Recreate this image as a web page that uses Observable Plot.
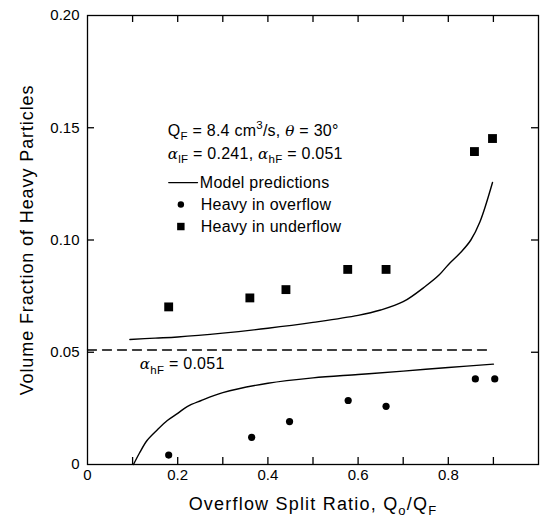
<!DOCTYPE html>
<html><head><meta charset="utf-8">
<script src="https://cdn.jsdelivr.net/npm/d3@7"></script>
<script src="https://cdn.jsdelivr.net/npm/@observablehq/plot@0.6"></script>
<style>body{margin:0;background:#fff}</style>
</head><body><div id="chart"></div>
<script>
// ---- data ----
const underX = [0.18, 0.36, 0.44, 0.577, 0.662, 0.858, 0.898];
const underY = [0.0702, 0.0742, 0.0779, 0.0869, 0.0869, 0.1394, 0.1452];
const overX = [0.18, 0.364, 0.448, 0.578, 0.662, 0.86, 0.903];
const overY = [0.0042, 0.0121, 0.0191, 0.0285, 0.0259, 0.0381, 0.0381];
const upperX = [0.094, 0.15, 0.2, 0.3, 0.4, 0.5, 0.6, 0.65, 0.7, 0.75, 0.78, 0.8, 0.83, 0.85, 0.87, 0.898];
const upperY = [0.0557, 0.0563, 0.0568, 0.0585, 0.0607, 0.0633, 0.0664, 0.0688, 0.0725, 0.0795, 0.0845, 0.089, 0.095, 0.1, 0.108, 0.1256];
const lowerX = [0.102, 0.115, 0.132, 0.155, 0.177, 0.2, 0.221, 0.251, 0.3, 0.4, 0.5, 0.6, 0.7, 0.8, 0.9];
const lowerY = [0, 0.005, 0.0107, 0.0155, 0.0196, 0.0228, 0.0258, 0.0284, 0.032, 0.0362, 0.0386, 0.0401, 0.0416, 0.0432, 0.0447];
const feedX = [0, 0.885];
const feedY = [0.051, 0.051];

const xLabelTicks = [0, 0.2, 0.4, 0.6, 0.8];
const xMinorTicks = [0.1, 0.2, 0.3, 0.4, 0.5, 0.6, 0.7, 0.8, 0.9];
const yLabelTicks = [0, 0.05, 0.1, 0.15, 0.2];
const yMinorTicks = [0.05, 0.1, 0.15];
const xTitle = "Overflow Split Ratio, Q_{o}/Q_{F}";
const yTitle = "Volume Fraction of Heavy Particles";

// annotations (text in data coords)
const noteText = ["Q_{F} = 8.4 cm^{3}/s, θ = 30°", "α_{lF} = 0.241, α_{hF} = 0.051", "Model predictions", "Heavy in overflow", "Heavy in underflow", "α_{hF} = 0.051"];
const noteX = [0.178, 0.178, 0.249, 0.251, 0.251, 0.116];
const noteY = [0.1488, 0.1385, 0.1256, 0.1158, 0.106, 0.0448];
const legLineX = [0.18, 0.244];
const legLineY = [0.1256, 0.1256];
const legDot = [{x: 0.207, y: 0.1158}];
const legSquare = [{x: 0.207, y: 0.106}];

// ---- build ----
const zip = (xs, ys) => xs.map((x, i) => ({x, y: ys[i]}));
const FONT = "'Liberation Sans', Arial, Helvetica, sans-serif";
const fmtX = d => d === 0 ? "0" : d.toFixed(1);
const fmtY = d => d === 0 ? "0" : d.toFixed(2);
const notes = noteText.map((t, i) => ({t, x: noteX[i], y: noteY[i]}));
const W = 540, H = 519, ML = 87, MR = 2, MT = 15, MB = 55;
const PW = W - ML - MR, PH = H - MT - MB, T = 7; // inward tick length
const xTicks = xMinorTicks.map(x => ({x}));
const yTicks = yMinorTicks.map(y => ({y}));
const tickStyle = {stroke: "black", strokeWidth: 1.3};

const chart = Plot.plot({
  width: W, height: H,
  marginLeft: ML, marginRight: MR, marginTop: MT, marginBottom: MB,
  x: {domain: [0, 1], label: null},
  y: {domain: [0, 0.2], label: null},
  style: {fontFamily: FONT, fontSize: "15px", color: "black", background: "white"},
  marks: [
    Plot.axisX(xLabelTicks, {anchor: "bottom", tickSize: 0, tickPadding: 5, tickFormat: fmtX, fontSize: 15,
      label: xTitle, labelAnchor: "center", labelOffset: 45, labelArrow: "none"}),
    Plot.axisY(yLabelTicks, {anchor: "left", tickSize: 0, tickPadding: 8, tickFormat: fmtY, fontSize: 15,
      label: yTitle, labelAnchor: "center", labelOffset: 67, labelArrow: "none"}),
    Plot.frame({stroke: "black", strokeWidth: 1.3}),
    // inward ticks on all four sides
    Plot.tickX(xTicks, {x: "x", insetTop: PH - T, ...tickStyle}),
    Plot.tickX(xTicks, {x: "x", insetBottom: PH - T, ...tickStyle}),
    Plot.tickY(yTicks, {y: "y", insetRight: PW - T, ...tickStyle}),
    Plot.tickY(yTicks, {y: "y", insetLeft: PW - T, ...tickStyle}),
    Plot.line(zip(feedX, feedY), {x: "x", y: "y", stroke: "black", strokeWidth: 1.3, strokeDasharray: "9,6"}),
    Plot.line(zip(upperX, upperY), {x: "x", y: "y", stroke: "black", strokeWidth: 1.4, curve: "catmull-rom"}),
    Plot.line(zip(lowerX, lowerY), {x: "x", y: "y", stroke: "black", strokeWidth: 1.4, curve: "catmull-rom"}),
    Plot.dot(zip(overX, overY), {x: "x", y: "y", r: 3.6, fill: "black", stroke: null}),
    Plot.dot(zip(underX, underY), {x: "x", y: "y", r: 5, symbol: "square", fill: "black", stroke: null}),
    Plot.line(zip(legLineX, legLineY), {x: "x", y: "y", stroke: "black", strokeWidth: 1.2}),
    Plot.dot(legDot, {x: "x", y: "y", r: 3.2, fill: "black", stroke: null}),
    Plot.dot(legSquare, {x: "x", y: "y", r: 4.2, symbol: "square", fill: "black", stroke: null}),
    Plot.text(notes, {x: "x", y: "y", text: "t", textAnchor: "start", lineAnchor: "middle", fontSize: 16, fill: "black"})
  ]
});
document.getElementById("chart").appendChild(chart);

// ---- rich text (sub/superscripts, italic greek) ----
function richify(el, markup) {
  const fs = parseFloat(el.getAttribute("font-size")) || parseFloat(getComputedStyle(el).fontSize) || 15;
  while (el.firstChild) el.removeChild(el.firstChild);
  const re = /([_^])\{([^}]*)\}|([αθ])|([^_^αθ]+)/g;
  let m, shift = 0;
  const ns = "http://www.w3.org/2000/svg";
  const add = (txt, opts) => {
    const ts = document.createElementNS(ns, "tspan");
    ts.textContent = txt;
    const target = opts.shift || 0;
    if (target !== shift) { ts.setAttribute("dy", (target - shift).toFixed(2)); shift = target; }
    if (opts.small) ts.setAttribute("font-size", (fs * 0.72).toFixed(1));
    if (opts.italic) { ts.setAttribute("font-style", "italic"); ts.setAttribute("font-family", "'DejaVu Serif', serif"); ts.setAttribute("font-size", (fs * 0.95).toFixed(1)); }
    el.appendChild(ts);
  };
  while ((m = re.exec(markup))) {
    if (m[1] === "_") add(m[2], {small: true, shift: fs * 0.3});
    else if (m[1] === "^") add(m[2], {small: true, shift: -fs * 0.38});
    else if (m[3]) add(m[3], {italic: true, shift: 0});
    else add(m[4], {shift: 0});
  }
}
const richKeys = [xTitle, yTitle, ...noteText];
chart.querySelectorAll("text").forEach(el => {
  const tc = el.textContent;
  const key = richKeys.find(k => tc.includes(k));
  if (!key) return;
  if (key === xTitle || key === yTitle) {
    el.setAttribute("font-size", "18");
    el.style.letterSpacing = key === xTitle ? "1.2px" : "0.9px";
  } else {
    el.style.letterSpacing = "0.25px";
  }
  richify(el, key);
});
</script>
</body></html>
